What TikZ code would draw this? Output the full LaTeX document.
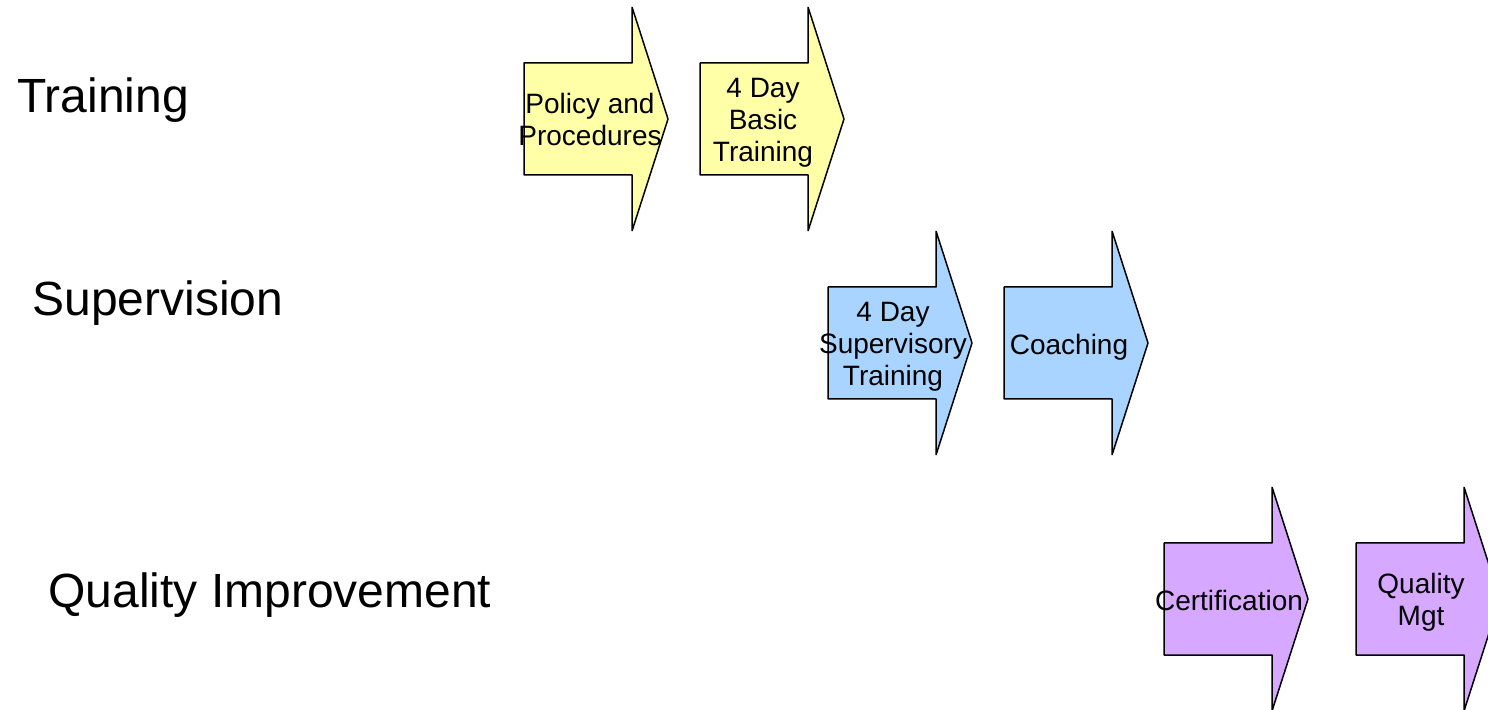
\documentclass[tikz,border=0pt]{standalone}
\usepackage{fontspec}
\setmainfont{Liberation Sans}
\definecolor{ylw}{HTML}{FFFFA8}
\definecolor{blu}{HTML}{A8D4FF}
\definecolor{prp}{HTML}{D6A8FF}
\newcommand\blockarrow[3]{%
  \filldraw[fill=#3,draw=black,line width=0.75pt,line join=bevel]
    (#1,#2) -- ++(108,0) -- ++(0,-56) -- ++(36,112) -- ++(-36,112)
    -- ++(0,-56) -- ++(-108,0) -- cycle;}
\tikzset{
  rowlabel/.style={anchor=base west,inner sep=0pt,font=\fontsize{24}{28}\selectfont},
  arrowtext/.style={align=center,inner sep=0pt,font=\fontsize{14}{16}\selectfont}
}
\begin{document}
\begin{tikzpicture}[x=0.5pt,y=-0.5pt]
\useasboundingbox (0,0) rectangle (1488,710);
\clip (0,0) rectangle (1488,710);
\fill[white] (0,0) rectangle (1488,710);
% row labels
\node[rowlabel] (lt) at (17,113) {Training};
\node[rowlabel] (ls) at (32,316) {Supervision};
\node[rowlabel] (lq) at (48,608) {Quality Improvement};
% arrows
\blockarrow{524}{63}{ylw}
\blockarrow{700}{63}{ylw}
\blockarrow{828}{287}{blu}
\blockarrow{1004}{287}{blu}
\blockarrow{1164}{543}{prp}
\blockarrow{1356}{543}{prp}
% arrow texts
\node[arrowtext] (a1) at (590,119) {Policy and\\Procedures};
\node[arrowtext] (a2) at (763,123) {4 Day\\Basic\\Training};
\node[arrowtext] (a3) at (893,347) {4 Day\\Supervisory\\Training};
\node[arrowtext] (a4) at (1069,347) {Coaching};
\node[arrowtext] (a5) at (1229,600) {Certification};
\node[arrowtext] (a6) at (1421,602) {Quality\\Mgt};
\end{tikzpicture}
\end{document}
